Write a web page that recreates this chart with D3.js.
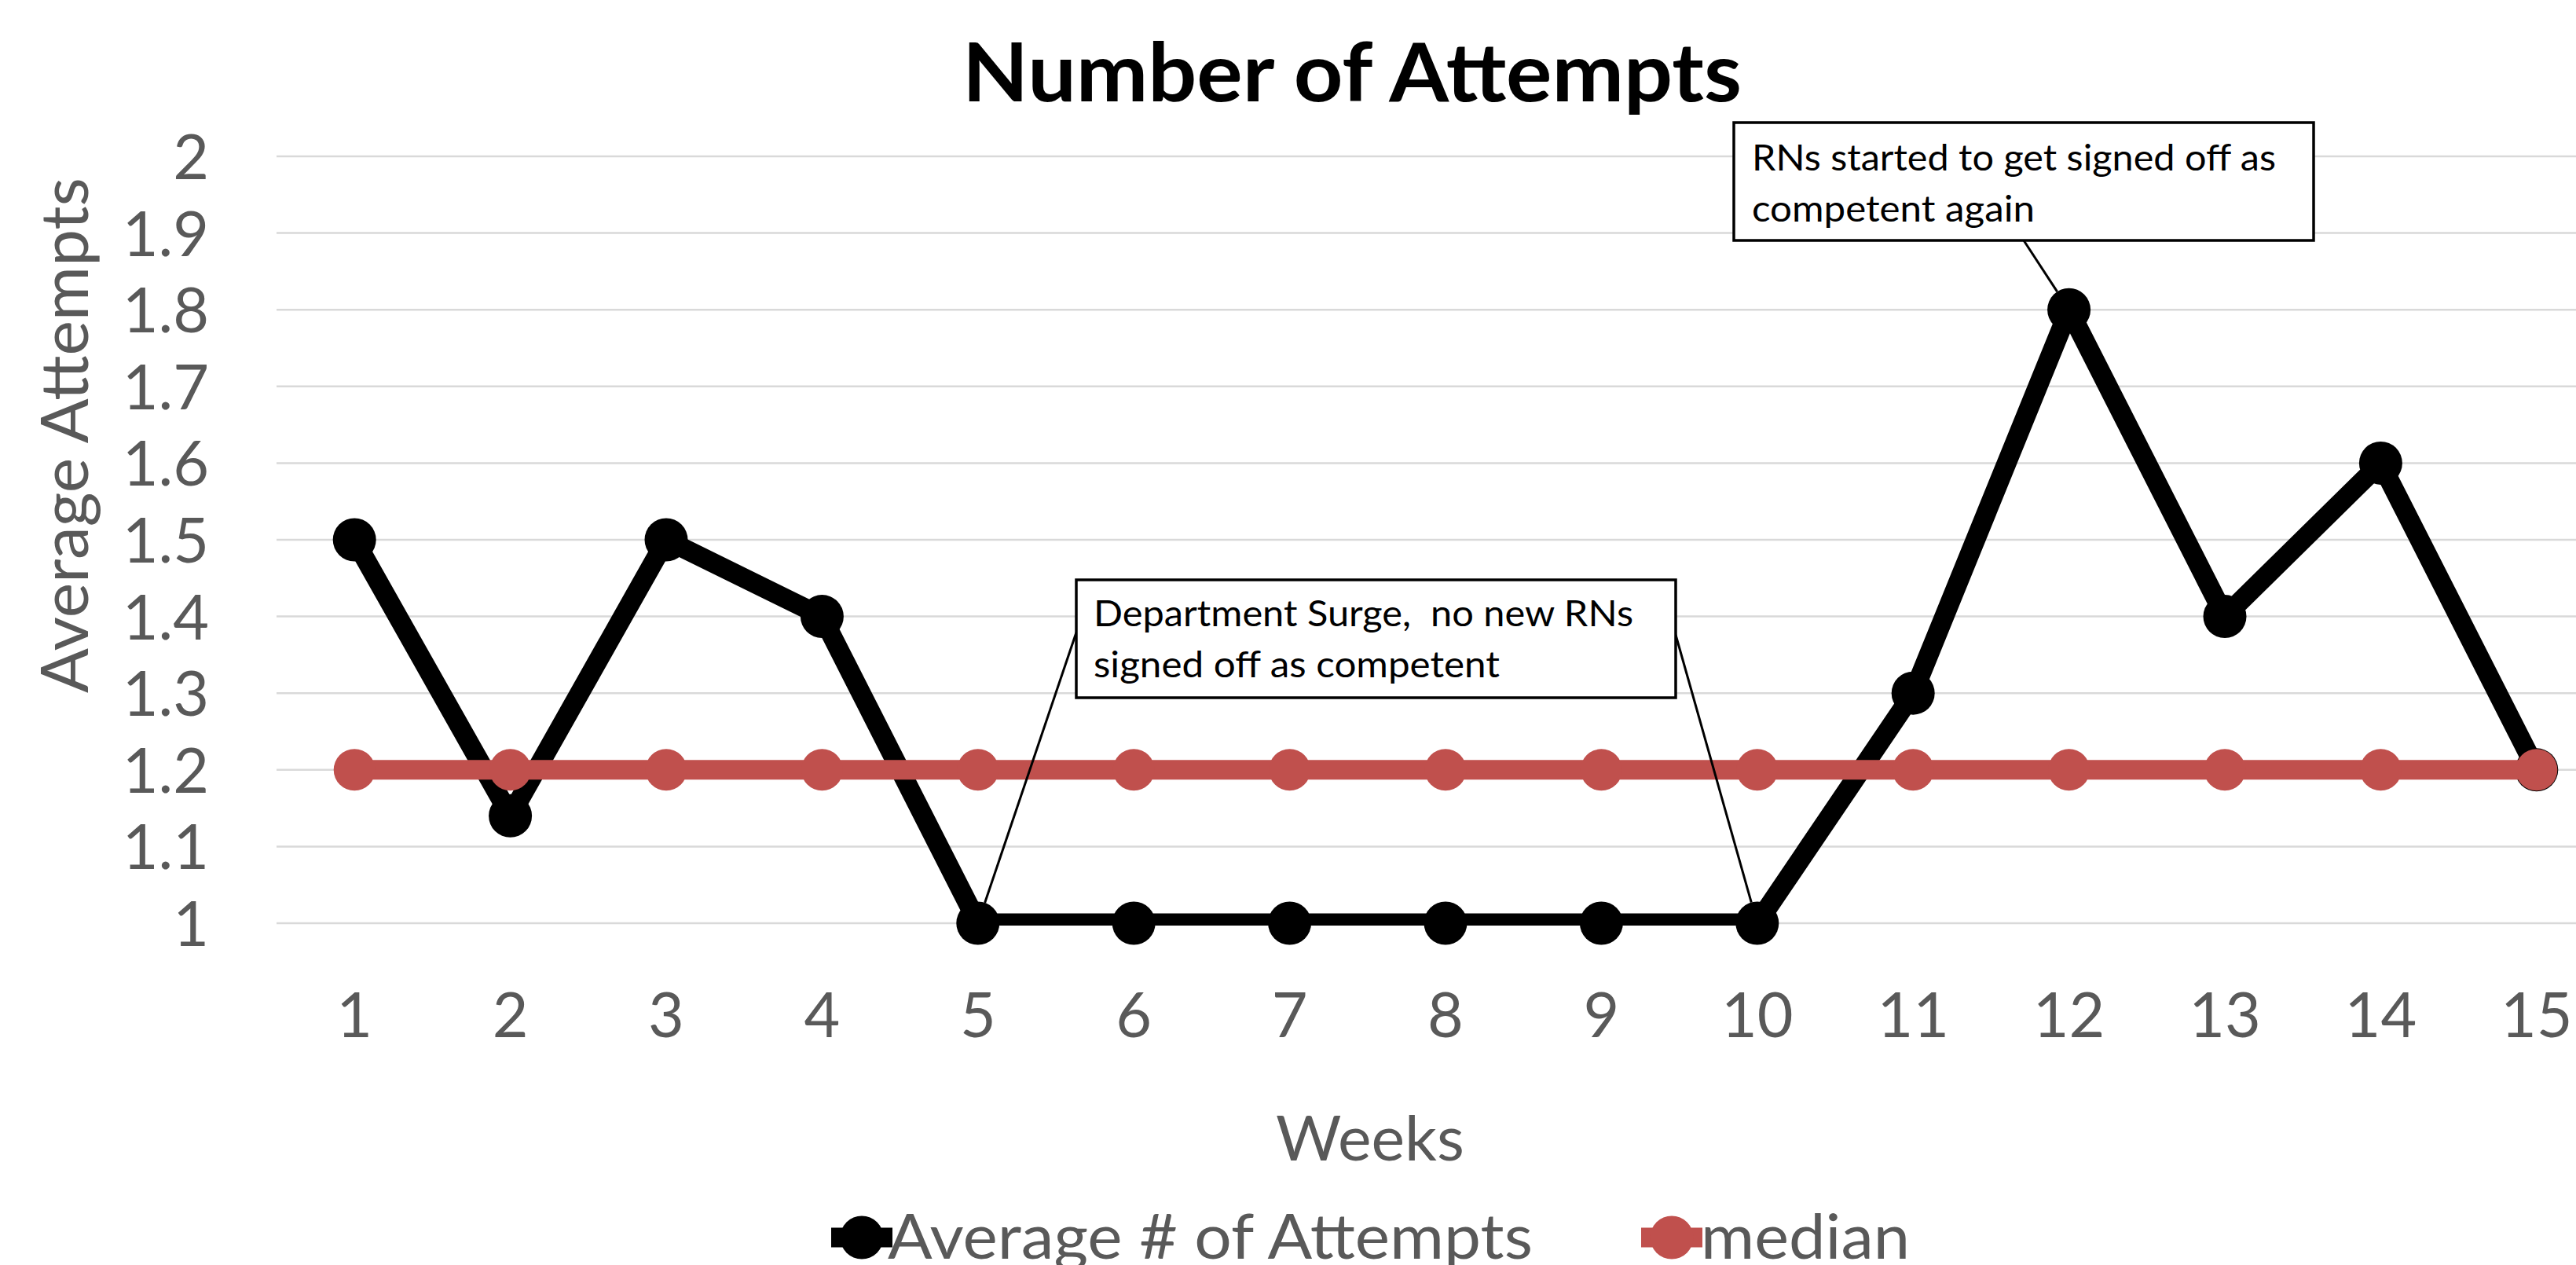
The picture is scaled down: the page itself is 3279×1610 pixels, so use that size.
<!DOCTYPE html>
<html>
<head>
<meta charset="utf-8">
<script src="https://cdn.jsdelivr.net/npm/d3@7"></script>
<style>
  html, body { margin: 0; padding: 0; background: #ffffff; }
  svg { display: block; }
  text { font-family: Lato, "Open Sans", "DejaVu Sans", sans-serif; }
</style>
</head>
<body>
<svg id="chart" width="3279" height="1610"></svg>
<script>
// Weekly average number of attempts against the median
const weeks = [1, 2, 3, 4, 5, 6, 7, 8, 9, 10, 11, 12, 13, 14, 15];
const averageAttempts = [1.5, 1.14, 1.5, 1.4, 1.0, 1.0, 1.0, 1.0, 1.0, 1.0, 1.3, 1.8, 1.4, 1.6, 1.2];
const medianAttempts = [1.2, 1.2, 1.2, 1.2, 1.2, 1.2, 1.2, 1.2, 1.2, 1.2, 1.2, 1.2, 1.2, 1.2, 1.2];
const yTicks = [1, 1.1, 1.2, 1.3, 1.4, 1.5, 1.6, 1.7, 1.8, 1.9, 2];
const seriesNames = ["Average # of Attempts", "median"];

// Callouts: text lines and the week each one points at
const callouts = [
  { lines: ["Department Surge,  no new RNs", "signed off as competent"], targets: [5, 10] },
  { lines: ["RNs started to get signed off as", "competent again"], targets: [12] }
];

const W = 3279, H = 1610;
const plot = { left: 352, top: 199, bottom: 1175, step: 198.4 };
const textGrey = "#595959";
const black = "#000000";
const red = "#C0504D";
const markerR = 27.5;

const svg = d3.select("#chart");

// Set a text's run length so its width follows the layout
function fitWidth(sel, width) {
  sel.attr("textLength", width).attr("lengthAdjust", "spacingAndGlyphs");
  return sel;
}

const x = d3.scaleBand()
  .domain(weeks)
  .range([plot.left, plot.left + plot.step * weeks.length])
  .paddingInner(0).paddingOuter(0);
const cx = d => x(d) + x.bandwidth() / 2;

const y = d3.scaleLinear().domain([1, 2]).range([plot.bottom, plot.top]);

// Title
fitWidth(svg.append("text")
  .attr("x", 1721).attr("y", 129)
  .attr("text-anchor", "middle")
  .attr("font-size", 103).attr("font-weight", 700)
  .attr("fill", black)
  .text("Number of Attempts"), 992);

// Horizontal gridlines
svg.append("g").selectAll("line")
  .data(yTicks).join("line")
  .attr("x1", plot.left).attr("x2", W)
  .attr("y1", d => y(d)).attr("y2", d => y(d))
  .attr("stroke", "#D9D9D9").attr("stroke-width", 2.5);

// Y axis labels
const yAxis = d3.axisLeft(y).tickValues(yTicks).tickSize(0).tickPadding(0)
  .tickFormat(d3.format("~g"));
const gy = svg.append("g").attr("transform", `translate(266,0)`).call(yAxis);
gy.select(".domain").remove();
gy.selectAll("text")
  .attr("font-family", "Lato, sans-serif")
  .attr("font-size", 79).attr("fill", textGrey)
  .attr("dy", "0.36em");

// X axis labels
const xAxis = d3.axisBottom(x).tickSize(0).tickPadding(0);
const gx = svg.append("g").attr("transform", `translate(0,1320)`).call(xAxis);
gx.select(".domain").remove();
gx.selectAll("text")
  .attr("font-family", "Lato, sans-serif")
  .attr("font-size", 79).attr("fill", textGrey)
  .attr("dy", 0).attr("y", 0);

// Axis titles
fitWidth(svg.append("text")
  .attr("transform", "translate(112,554) rotate(-90)")
  .attr("text-anchor", "middle")
  .attr("font-size", 83).attr("fill", textGrey)
  .text("Average Attempts"), 656);

fitWidth(svg.append("text")
  .attr("x", 1744).attr("y", 1477)
  .attr("text-anchor", "middle")
  .attr("font-size", 80).attr("fill", textGrey)
  .text("Weeks"), 240);

// Clip so the thick line stops at the bottom of the plot area
svg.append("defs").append("clipPath").attr("id", "plotClip")
  .append("rect")
  .attr("x", 0).attr("y", 0)
  .attr("width", W).attr("height", y(1) + 3);

const line = d3.line().x((d, i) => cx(weeks[i])).y(d => y(d));

// Average series
svg.append("path")
  .datum(averageAttempts)
  .attr("d", line)
  .attr("fill", "none").attr("stroke", black)
  .attr("stroke-width", 25).attr("stroke-linejoin", "round")
  .attr("clip-path", "url(#plotClip)");
svg.append("g").selectAll("circle")
  .data(averageAttempts).join("circle")
  .attr("cx", (d, i) => cx(weeks[i])).attr("cy", d => y(d))
  .attr("r", markerR).attr("fill", black);

// Median series
svg.append("path")
  .datum(medianAttempts)
  .attr("d", line)
  .attr("fill", "none").attr("stroke", red)
  .attr("stroke-width", 25).attr("stroke-linejoin", "round");
svg.append("g").selectAll("circle")
  .data(medianAttempts).join("circle")
  .attr("cx", (d, i) => cx(weeks[i])).attr("cy", d => y(d))
  .attr("r", 26.5).attr("fill", red);

// Callout boxes with leader lines
const boxes = [
  { x0: 1370, y0: 738, x1: 2133, y1: 888, anchors: [[1370, 805], [2133, 808]], tx: 1392, ty: 797, widths: [687, 517] },
  { x0: 2207, y0: 156, x1: 2945, y1: 306, anchors: [[2576, 306]], tx: 2230, ty: 217, widths: [667, 360] }
];
callouts.forEach((c, k) => {
  const b = boxes[k];
  const g = svg.append("g");
  c.targets.forEach((wk, j) => {
    const idx = weeks.indexOf(wk);
    const px = cx(wk), py = y(averageAttempts[idx]);
    const [ax, ay] = b.anchors[j];
    const dx = px - ax, dy = py - ay, len = Math.hypot(dx, dy);
    g.append("line")
      .attr("x1", ax).attr("y1", ay)
      .attr("x2", px - dx / len * markerR).attr("y2", py - dy / len * markerR)
      .attr("stroke", black).attr("stroke-width", 3);
  });
  g.append("rect")
    .attr("x", b.x0).attr("y", b.y0)
    .attr("width", b.x1 - b.x0).attr("height", b.y1 - b.y0)
    .attr("fill", "#ffffff").attr("stroke", black).attr("stroke-width", 3.5);
  const t = g.append("text")
    .attr("font-size", 46).attr("fill", black)
    .attr("xml:space", "preserve");
  c.lines.forEach((ln, i) => {
    fitWidth(t.append("tspan").attr("x", b.tx).attr("y", b.ty + i * 64.5).text(ln), b.widths[i]);
  });
});

// Legend
const legendItems = [
  { name: seriesNames[0], color: black, gx: 1097, tx: 1130, w: 821 },
  { name: seriesNames[1], color: red, gx: 2128, tx: 2165, w: 266 }
];
const lg = svg.append("g");
legendItems.forEach(it => {
  lg.append("line")
    .attr("x1", it.gx - 39).attr("x2", it.gx + 39)
    .attr("y1", 1575).attr("y2", 1575)
    .attr("stroke", it.color).attr("stroke-width", 25);
  lg.append("circle")
    .attr("cx", it.gx).attr("cy", 1575).attr("r", markerR).attr("fill", it.color);
  fitWidth(lg.append("text")
    .attr("x", it.tx).attr("y", 1602)
    .attr("font-size", 80).attr("fill", textGrey)
    .text(it.name), it.w);
});
</script>
</body>
</html>
